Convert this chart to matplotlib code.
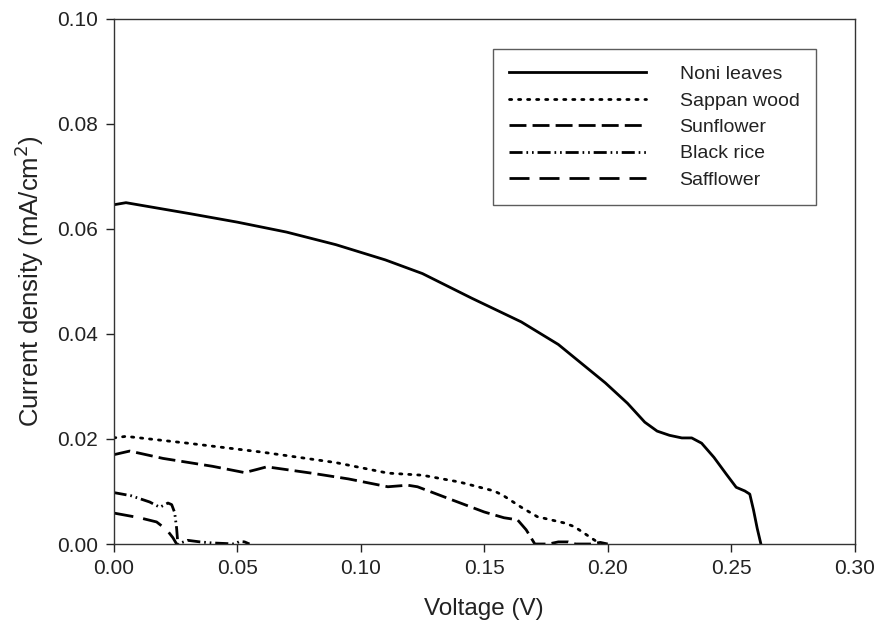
import matplotlib
matplotlib.use("Agg")
import matplotlib.pyplot as plt
import numpy as np

plt.rcParams['font.family'] = ['Liberation Sans', 'DejaVu Sans']

# Data
noni_v = [0.0, 0.005, 0.031, 0.050, 0.070, 0.090, 0.110, 0.125, 0.145, 0.165, 0.180, 0.199, 0.208, 0.215, 0.220, 0.225, 0.230, 0.234, 0.238, 0.243, 0.248, 0.252, 0.2555, 0.2575, 0.259, 0.2605, 0.262]
noni_j = [0.0646, 0.0650, 0.0629, 0.0613, 0.0594, 0.0570, 0.0541, 0.0515, 0.0468, 0.0423, 0.0380, 0.0307, 0.0268, 0.0232, 0.0215, 0.0207, 0.0202, 0.0202, 0.0192, 0.0165, 0.0133, 0.0108, 0.0101, 0.0095, 0.0065, 0.0030, 0.0]

sappan_v = [0.0, 0.005, 0.03, 0.06, 0.09, 0.111, 0.125, 0.140, 0.154, 0.1575, 0.165, 0.1715, 0.1825, 0.1865, 0.1935, 0.197]
sappan_j = [0.0202, 0.0205, 0.0192, 0.0175, 0.0155, 0.0135, 0.0131, 0.0118, 0.0101, 0.0093, 0.0070, 0.0052, 0.0040, 0.0033, 0.0011, 0.0]

sunflower_v = [0.0, 0.0065, 0.02, 0.04, 0.053, 0.058, 0.062, 0.08, 0.095, 0.111, 0.119, 0.123, 0.137, 0.150, 0.158, 0.1635, 0.167, 0.1705, 0.176, 0.180, 0.184, 0.187, 0.193, 0.197, 0.200]
sunflower_j = [0.0170, 0.0177, 0.0163, 0.0148, 0.0136, 0.0142, 0.0147, 0.0135, 0.0124, 0.0109, 0.0112, 0.0109, 0.0084, 0.0061, 0.0050, 0.0046, 0.0027, 0.0, 0.0, 0.0004, 0.0004, 0.0, 0.0, 0.0003, 0.0]

blackrice_v = [0.0, 0.007, 0.0146, 0.0187, 0.022, 0.0235, 0.0247, 0.0255, 0.026, 0.030, 0.035, 0.040, 0.045, 0.049, 0.051, 0.053, 0.055]
blackrice_j = [0.0098, 0.0092, 0.0080, 0.0070, 0.0078, 0.0075, 0.0060, 0.0030, 0.0, 0.0007, 0.0004, 0.0002, 0.0001, 0.0, 0.0005, 0.0004, 0.0]

safflower_v = [0.0, 0.0105, 0.0174, 0.0215, 0.024, 0.0255]
safflower_j = [0.0059, 0.0050, 0.0042, 0.0027, 0.0012, 0.0]

labels = ["Noni leaves", "Sappan wood", "Sunflower", "Black rice", "Safflower"]

fig = plt.figure(figsize=(8.74, 6.30), dpi=100)
ax = fig.add_axes([0.130, 0.1365, 0.848, 0.8335])

lw = 2.0
ax.plot(noni_v, noni_j, color='black', lw=lw, solid_joinstyle='round', label=labels[0])
ax.plot(sappan_v, sappan_j, color='black', lw=lw, dashes=[0.8, 2.45], dash_capstyle='round', label=labels[1])
ax.plot(sunflower_v, sunflower_j, color='black', lw=lw, dashes=[6.1, 2.2], label=labels[2])
ax.plot(blackrice_v, blackrice_j, color='black', lw=lw, dashes=[4.7, 1.4, 0.6, 1.4, 0.6, 1.4], label=labels[3])
ax.plot(safflower_v, safflower_j, color='black', lw=lw, dashes=[7.2, 3.6], label=labels[4])

ax.set_xlim(0, 0.30)
ax.set_ylim(0, 0.10)
xt = np.arange(0, 0.301, 0.05)
yt = np.arange(0, 0.101, 0.02)
ax.set_xticks(xt)
ax.set_yticks(yt)
ax.set_xticklabels([f"{v:.2f}" for v in xt])
ax.set_yticklabels([f"{v:.2f}" for v in yt])
ax.tick_params(direction='out', length=6, width=1, labelsize=15, pad=5, top=False, right=False, colors='#222222')
for s in ax.spines.values():
    s.set_linewidth(1.0)
    s.set_color('#333333')

ax.set_xlabel("Voltage (V)", fontsize=17.5, labelpad=14, color='#222222')
ax.set_ylabel("Current density (mA/cm$^2$)", fontsize=18.5, labelpad=8, color='#222222')

leg = ax.legend(loc='upper left', bbox_to_anchor=(0.564, 0.922), bbox_transform=fig.transFigure,
                fontsize=14, frameon=True, fancybox=False, edgecolor='#333333',
                handlelength=7.0, handletextpad=1.75, labelspacing=0.45, borderpad=0.85,
                borderaxespad=0)
leg.get_frame().set_linewidth(1.0)
for t in leg.get_texts():
    t.set_color('#222222')

fig.savefig("out.png", dpi=100)
